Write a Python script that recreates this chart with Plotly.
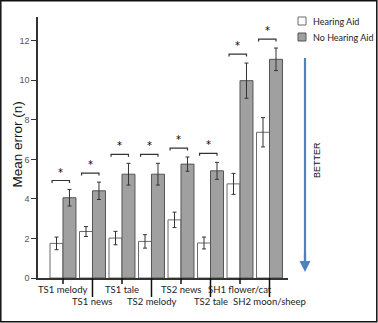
import plotly.graph_objects as go

# Listening tasks and mean error counts, with and without a hearing aid
categories = ["TS1 melody", "TS1 news", "TS1 tale", "TS2 melody",
              "TS2 news", "TS2 tale", "SH1 flower/cat", "SH2 moon/sheep"]
hearing_aid = [1.75, 2.35, 2.02, 1.85, 2.94, 1.77, 4.76, 7.37]
hearing_aid_err = [0.32, 0.25, 0.34, 0.34, 0.39, 0.30, 0.53, 0.74]
no_hearing_aid = [4.06, 4.41, 5.25, 5.25, 5.76, 5.42, 9.98, 11.06]
no_hearing_aid_err = [0.42, 0.44, 0.55, 0.55, 0.36, 0.43, 0.89, 0.57]
significant = ["*"] * len(categories)
y_ticks = [0, 2, 4, 6, 8, 10, 12]

W, H = 378, 323
L, R, T, B = 38, 90, 17, 45
PW, PH = W - L - R, H - T - B
Y_MAX = 13.2

WHITE_FILL, WHITE_EDGE = "white", "#6b6b6b"
GRAY_FILL, GRAY_EDGE = "#a0a0a0", "#555555"
ARROW_BLUE = "#4f81bd"


def px_x(p):
    return (p - L) / PW


def px_y(p):
    return (H - B - p) / PH


x = list(range(len(categories)))

fig = go.Figure()
fig.add_trace(go.Bar(
    x=x, y=hearing_aid, name="Hearing Aid", showlegend=False,
    marker=dict(color=WHITE_FILL, line=dict(color=WHITE_EDGE, width=1)),
    error_y=dict(type="data", array=hearing_aid_err, color="#333333",
                 thickness=1, width=2),
))
fig.add_trace(go.Bar(
    x=x, y=no_hearing_aid, name="No Hearing Aid", showlegend=False,
    marker=dict(color=GRAY_FILL, line=dict(color=GRAY_EDGE, width=1)),
    error_y=dict(type="data", array=no_hearing_aid_err, color="#333333",
                 thickness=1, width=2),
))

shapes = []
annotations = []

# significance brackets with stars above each pair
for i, star in enumerate(significant):
    top = max(hearing_aid[i] + hearing_aid_err[i],
              no_hearing_aid[i] + no_hearing_aid_err[i])
    h = top + 0.45
    x0, x1 = i - 0.37, i + 0.22
    shapes.append(dict(
        type="path", xref="x", yref="y",
        path=f"M {x0},{h - 0.12} L {x0},{h} L {x1},{h} L {x1},{h - 0.12}",
        line=dict(color="#333333", width=1.2),
    ))
    annotations.append(dict(
        x=(x0 + x1) / 2, y=h, xref="x", yref="y", text=star,
        showarrow=False, xanchor="center", yanchor="bottom", yshift=1,
        font=dict(family="DejaVu Sans", size=10, color="#000000"),
    ))

# category labels on two staggered rows with leader lines
for i, name in enumerate(categories):
    row = i % 2
    line_end = 6 if row == 0 else 19
    text_y = 11 if row == 0 else 24
    shapes.append(dict(
        type="line", xref="x", yref="paper",
        x0=i, x1=i, y0=0, y1=-line_end / PH,
        line=dict(color="#111111", width=1.5),
    ))
    annotations.append(dict(
        x=i, y=-text_y / PH, xref="x", yref="paper", text=name,
        showarrow=False, yanchor="middle", xanchor="center",
        font=dict(family="Lato", size=9.5, color="#222222"),
    ))

# legend: swatch boxes with labels
legend_items = [("Hearing Aid", WHITE_FILL, WHITE_EDGE, 21),
                ("No Hearing Aid", GRAY_FILL, GRAY_EDGE, 37)]
for label, fill, edge, cy in legend_items:
    shapes.append(dict(
        type="rect", xref="paper", yref="paper",
        x0=px_x(298), x1=px_x(306), y0=px_y(cy + 4), y1=px_y(cy - 4),
        fillcolor=fill, line=dict(color=edge, width=1),
    ))
    annotations.append(dict(
        x=px_x(311), y=px_y(cy), xref="paper", yref="paper",
        xanchor="left", yanchor="middle", text=label, showarrow=False,
        font=dict(family="Lato", size=9, color="#222222"),
    ))

# axis title
annotations.append(dict(
    x=px_x(16.5), y=px_y(145), xref="paper", yref="paper",
    xanchor="center", yanchor="middle",
    text="Mean error (n)", textangle=-90, showarrow=False,
    font=dict(family="Liberation Sans", size=13.5, color="#111111"),
))

# direction arrow: shaft plus head
shapes.append(dict(
    type="line", xref="paper", yref="paper",
    x0=px_x(305), x1=px_x(305), y0=px_y(58), y1=px_y(266),
    line=dict(color=ARROW_BLUE, width=2.2),
))
annotations.append(dict(
    x=px_x(305), y=px_y(272), xref="paper", yref="paper",
    ax=0, ay=-20, showarrow=True, arrowhead=2, arrowsize=1,
    arrowwidth=2.2, arrowcolor=ARROW_BLUE, text="",
))
annotations.append(dict(
    x=px_x(317), y=px_y(160), xref="paper", yref="paper",
    xanchor="center", yanchor="middle",
    text="BETTER", textangle=-90, showarrow=False,
    font=dict(family="Liberation Sans", size=9, color="#111111"),
))

# frame around the whole figure
shapes.append(dict(
    type="rect", xref="paper", yref="paper",
    x0=px_x(0.8), x1=px_x(W - 1.2), y0=px_y(H - 1.2), y1=px_y(0.8),
    line=dict(color="#111111", width=1.5),
))

fig.update_layout(
    width=W, height=H,
    margin=dict(l=L, r=R, t=T, b=B, pad=0, autoexpand=False),
    plot_bgcolor="white", paper_bgcolor="white",
    barmode="group", bargap=0.12, bargroupgap=0,
    shapes=shapes, annotations=annotations, showlegend=False,
    xaxis=dict(
        range=[-0.847, 7.627], showgrid=False, zeroline=False,
        showticklabels=False, ticks="", showline=True,
        linecolor="#333333", linewidth=1.5,
    ),
    yaxis=dict(
        range=[0, Y_MAX], tickvals=y_ticks, ticks="outside", ticklen=5,
        tickcolor="#333333", tickwidth=1, showgrid=False, zeroline=False,
        showline=True, linecolor="#333333", linewidth=1.5,
        tickfont=dict(family="Liberation Sans", size=9, color="#555555"),
    ),
)

fig.write_html("out.html")
